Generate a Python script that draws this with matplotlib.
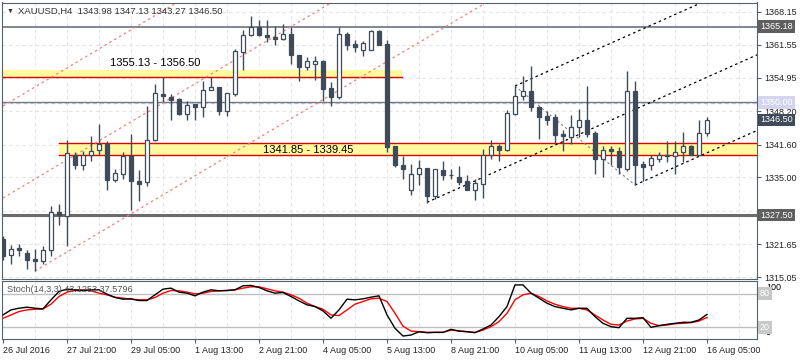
import matplotlib.pyplot as plt
import numpy as np

# XAUUSD H4 candles (oldest first)
opens = [1322.6, 1319.5, 1320.8, 1320.0, 1318.6, 1318.2, 1320.4, 1328.0, 1327.2, 1339.5,
         1337.6, 1339.4, 1340.4, 1341.7, 1334.5, 1335.8, 1339.2, 1334.3, 1334.0, 1342.6,
         1351.8, 1351.0, 1350.7, 1347.8, 1349.6, 1349.0, 1352.4, 1353.0, 1348.2, 1351.8,
         1360.0, 1363.5, 1365.0, 1363.4, 1363.1, 1362.8, 1363.7, 1359.5, 1357.0, 1357.8,
         1358.3, 1352.8, 1351.0, 1363.7, 1361.6, 1360.5, 1360.5, 1364.3, 1361.7, 1341.2,
         1337.6, 1332.6, 1335.7, 1336.8, 1331.2, 1336.5, 1335.5, 1335.0, 1334.2, 1332.6,
         1333.8, 1339.6, 1341.3, 1340.6, 1347.8, 1351.2, 1352.3, 1349.0, 1347.2, 1347.0,
         1343.7, 1343.0, 1345.0, 1346.5, 1343.8, 1338.8, 1340.7, 1340.3, 1336.8, 1352.3,
         1337.7, 1337.6, 1338.8, 1339.4, 1339.2, 1340.0, 1341.3, 1339.5, 1343.98]
highs = [1323.2, 1321.6, 1321.8, 1320.4, 1320.8, 1321.2, 1329.2, 1329.7, 1342.6, 1340.0,
         1340.2, 1343.3, 1345.7, 1342.2, 1336.8, 1340.0, 1343.8, 1336.6, 1349.2, 1353.8,
         1355.0, 1351.8, 1350.9, 1350.2, 1349.8, 1354.3, 1355.0, 1353.1, 1351.9, 1360.8,
         1364.5, 1367.3, 1366.4, 1366.4, 1365.3, 1365.7, 1365.0, 1359.6, 1359.0, 1359.3,
         1358.4, 1354.0, 1365.0, 1364.0, 1362.6, 1362.2, 1364.6, 1364.6, 1362.5, 1341.3,
         1339.3, 1337.8, 1338.5, 1336.9, 1336.8, 1338.3, 1336.8, 1337.3, 1335.5, 1334.8,
         1340.8, 1342.6, 1341.7, 1348.5, 1353.3, 1355.3, 1357.3, 1349.3, 1348.2, 1347.8,
         1344.5, 1347.5, 1348.7, 1353.3, 1344.2, 1341.2, 1341.2, 1341.0, 1356.3, 1354.3,
         1338.3, 1339.5, 1340.0, 1342.3, 1342.2, 1344.0, 1341.5, 1346.5, 1347.13]
lows = [1318.6, 1317.8, 1319.2, 1316.8, 1316.2, 1317.7, 1319.2, 1325.6, 1321.2, 1336.8,
        1336.5, 1338.2, 1339.4, 1332.5, 1334.0, 1334.8, 1328.5, 1330.3, 1333.3, 1342.2,
        1350.0, 1346.5, 1347.5, 1346.4, 1346.4, 1347.0, 1352.4, 1347.5, 1347.2, 1351.2,
        1356.4, 1363.2, 1363.2, 1362.0, 1361.5, 1362.6, 1357.7, 1354.2, 1356.5, 1354.4,
        1350.2, 1349.2, 1350.8, 1360.4, 1360.0, 1359.2, 1360.5, 1361.6, 1340.0, 1337.0,
        1334.7, 1331.5, 1333.6, 1330.0, 1330.7, 1334.5, 1334.7, 1333.5, 1332.5, 1330.6,
        1331.0, 1338.8, 1338.2, 1340.2, 1347.6, 1350.6, 1348.2, 1342.8, 1345.5, 1341.7,
        1340.2, 1341.8, 1343.0, 1343.0, 1335.8, 1335.0, 1337.4, 1335.8, 1336.2, 1333.5,
        1334.2, 1336.4, 1338.0, 1338.0, 1335.7, 1338.0, 1339.4, 1339.4, 1343.27]
closes = [1319.2, 1320.8, 1320.4, 1318.5, 1318.2, 1320.5, 1328.0, 1327.4, 1339.8, 1337.5,
          1339.5, 1340.2, 1341.7, 1334.5, 1335.8, 1339.3, 1334.2, 1333.8, 1342.5, 1351.8,
          1351.3, 1350.5, 1347.8, 1349.6, 1349.0, 1352.5, 1353.0, 1348.2, 1351.8, 1360.2,
          1363.5, 1365.0, 1363.4, 1363.0, 1362.8, 1363.7, 1359.4, 1357.0, 1358.3, 1358.3,
          1352.7, 1351.0, 1363.7, 1361.4, 1361.0, 1361.8, 1364.3, 1361.6, 1341.0, 1337.6,
          1336.8, 1335.7, 1336.8, 1331.2, 1336.6, 1335.4, 1335.5, 1334.0, 1332.5, 1333.8,
          1339.6, 1341.3, 1340.5, 1347.8, 1351.2, 1352.3, 1349.0, 1347.0, 1346.6, 1343.5,
          1343.2, 1345.0, 1346.5, 1343.8, 1338.8, 1340.5, 1340.2, 1337.0, 1352.3, 1337.6,
          1337.0, 1338.8, 1339.5, 1339.2, 1340.0, 1341.3, 1339.4, 1343.8, 1346.50]

# Stochastic (14,3,3)
stoch_k = [42.2, 51.2, 54.2, 56, 54.2, 53, 69.2, 84.2, 88.4, 87.2, 86, 87.2, 87.2, 79.4, 73.4,
           70.4, 71, 68, 68, 78.2, 88.4, 90.2, 83, 81.2, 76.4, 83, 87.2, 85.4, 86, 87.2,
           94.4, 95, 91.4, 85.4, 81.2, 82.4, 75.2, 67.4, 60.2, 57.2, 49.4, 36.2, 51.2, 70.4,
           69.2, 71, 74, 76.4, 42.2, 18.2, 4.3, 6.1, 12.1, 10.3, 10.9, 10.9, 16.3, 13.3,
           12.1, 10.3, 16.9, 24.1, 39.1, 57.1, 96, 96, 81.2, 72.2, 63.2, 57.1, 54.1, 51.2,
           54.1, 54.1, 39.1, 27.1, 21.1, 19.3, 36.1, 36.1, 37.3, 19.9, 22.9, 25.3, 27.1,
           28.9, 28.9, 33.1, 43.13]
stoch_d = [36.2, 42.2, 48.2, 51.2, 52.4, 53, 61.4, 75.2, 83, 86, 87.2, 85.4, 81.2, 78.2, 74,
           72.2, 70.4, 69.2, 69.2, 73.4, 81.2, 86, 85.4, 83, 80, 81.2, 84.2, 85.4, 86, 87.2,
           90.2, 92.6, 92.6, 89, 85.4, 83, 78.2, 72.2, 63.2, 57.2, 52.4, 42.2, 41, 51.2,
           61.4, 66.2, 71, 72.2, 66.2, 45.2, 22, 13.3, 12.1, 10.9, 10.9, 10.9, 15.1, 13.3,
           12.1, 10.9, 15.1, 21.1, 30.1, 45.1, 69.2, 78.2, 81.2, 75.2, 67.3, 61.3, 57.1,
           54.1, 54.1, 51.1, 42.1, 33.1, 25.3, 24.1, 31.3, 34.9, 36.1, 27.1, 22.9, 24.1,
           26.5, 27.1, 28.3, 31.3, 37.58]

time_labels = ["26 Jul 2016", "27 Jul 21:00", "29 Jul 05:00", "1 Aug 13:00", "2 Aug 21:00",
               "4 Aug 05:00", "5 Aug 13:00", "8 Aug 21:00", "10 Aug 05:00", "11 Aug 13:00",
               "12 Aug 21:00", "16 Aug 05:00"]
price_ticks = [1315.05, 1321.65, 1328.25, 1335.00, 1341.60, 1348.20, 1354.95, 1361.55, 1368.15]

# horizontal levels and zones
level_lines = [1365.18, 1350.00, 1327.50]
zone_hi = (1355.13, 1356.50)
zone_lo = (1339.45, 1341.85)

# channels: (start candle, price at start), slope in price per candle
red_channel = [(0, 1349.3), (0, 1330.9), (4, 1316.3)]
red_slope = 0.952
black_channel = [(64, 1353.3), (53, 1330.03), (79, 1333.5)]
black_slope = 0.715

dark = "#3f4b59"
frame = "#56606b"
gridc = "#e4e4e4"

plt.rcParams['font.family'] = ['Liberation Sans', 'DejaVu Sans']

fig = plt.figure(figsize=(8, 3.6), dpi=100)
ax = fig.add_axes([2/800, 1-279/360, 755/800, 276.5/360])
ax2 = fig.add_axes([2/800, 1-339/360, 755/800, 58/360])

x = np.arange(len(opens))
o = np.array(opens); c = np.array(closes)
xmax = 94.25

# grid
for a in (ax, ax2):
    for gx in range(4, 96, 4):
        a.axvline(gx, color=gridc, lw=0.8, ls=(0, (3, 3)), zorder=0)
for p in price_ticks:
    ax.axhline(p, color=gridc, lw=0.8, ls=(0, (3, 3)), zorder=0)

# zones
ax.fill_between([-1, 49.9], zone_hi[0], zone_hi[1], color="#fffaa0", lw=0, zorder=1)
ax.plot([-1, 49.9], [zone_hi[0], zone_hi[0]], color="#e00000", lw=1, zorder=1.2)
ax.fill_between([7, xmax + 1], zone_lo[0], zone_lo[1], color="#fffaa0", lw=0, zorder=1)
ax.plot([7, xmax + 1], [zone_lo[0], zone_lo[0]], color="#e00000", lw=1, zorder=1.2)
ax.plot([7, xmax + 1], [zone_lo[1], zone_lo[1]], color="#e00000", lw=1, zorder=1.2)
ax.text(13.4, 1356.8, "1355.13 - 1356.50", fontsize=8, color="black", va="bottom", zorder=2)
ax.text(32.5, 1340.55, "1341.85 - 1339.45", fontsize=8, color="black", va="center", zorder=2)

# horizontal levels
ax.axhline(level_lines[0], color="#5d666f", lw=1.1, zorder=1.5)
ax.axhline(level_lines[1] - 0.15, color="#c8c8ea", lw=1, ls=(0, (3, 2)), zorder=1.4)
ax.axhline(level_lines[1], color="#737a82", lw=1, zorder=1.5)
ax.axhline(level_lines[2], color="#6b6b6b", lw=2.2, zorder=1.5)

# channels
for s, p in red_channel:
    xs = np.array([s, 100])
    ax.plot(xs, p + red_slope * (xs - s), color="#f08080", lw=0.9, ls=(0, (2, 2.5)), zorder=1.6)
for s, p in black_channel:
    xs = np.array([s, 100])
    ax.plot(xs, p + black_slope * (xs - s), color="black", lw=0.9, ls=(0, (2, 2.5)), zorder=1.6)
ax.plot([black_channel[0][0], black_channel[2][0]], [black_channel[0][1], black_channel[2][1]],
        color="#808080", lw=0.8, ls=(0, (2, 2.5)), zorder=1.6)

# candles
up = c >= o
ax.vlines(x, lows, highs, color=dark, lw=1, zorder=3)
ax.bar(x, np.abs(c - o), bottom=np.minimum(o, c), width=0.62,
       color=np.where(up, "white", dark), edgecolor=dark, linewidth=0.9, zorder=4)

ax.set_xlim(-0.125, xmax)
ax.set_ylim(1314.7, 1370.0)
ax.yaxis.tick_right()
ax.set_yticks(price_ticks)
ax.set_yticklabels(["%.2f" % p if p != 1328.25 else "" for p in price_ticks])
ax.tick_params(axis="y", length=3, color=frame, labelsize=6.5, pad=2, labelcolor="#222222")
ax.set_xticks([])
for sp in ax.spines.values():
    sp.set_color(frame)

# price boxes on the right axis
def price_box(a, y, txt, fc, tc="white"):
    a.text(1.004, y, txt, transform=a.get_yaxis_transform(), ha="left", va="center",
           fontsize=6.5, color=tc, clip_on=False, zorder=6,
           bbox=dict(boxstyle="square,pad=0.22", fc=fc, ec="none"))

price_box(ax, level_lines[0], "1365.18", "#5f5f5f")
price_box(ax, level_lines[1], "1350.00", "#d4d4ee")
price_box(ax, closes[-1], "%.2f" % closes[-1], dark)
price_box(ax, level_lines[2], "1327.50", "#5f5f5f")

fig.text(7/800, 1-11/360, "\u25bc", fontsize=5, color="#333333", va="center")
fig.text(18/800, 1-11/360, "XAUUSD,H4  %.2f %.2f %.2f %.2f" % (opens[-1], highs[-1], lows[-1], closes[-1]),
         fontsize=6.8, color="#333333", va="center")

# stochastic panel
ax2.axhline(80, color="#c0c0c0", lw=1, zorder=1)
ax2.axhline(20, color="#c0c0c0", lw=1, zorder=1)
ax2.plot(x, stoch_k, color="black", lw=1, zorder=3)
ax2.plot(x, stoch_d, color="#ff0000", lw=1, zorder=2)
ax2.set_xlim(-0.125, xmax)
ax2.set_ylim(-1, 103)
ax2.set_yticks([])
ax2.set_xticks(np.arange(0, 89, 8))
ax2.set_xticklabels(time_labels, ha="left")
ax2.tick_params(axis="x", length=3, color=frame, labelsize=6.5, pad=2, labelcolor="#222222")
for sp in ax2.spines.values():
    sp.set_color(frame)
ax2.text(1.012, 100, "100", transform=ax2.get_yaxis_transform(), fontsize=6.5, va="top", clip_on=False)
ax2.text(1.012, 11, "0", transform=ax2.get_yaxis_transform(), fontsize=6.5, va="center", clip_on=False)
price_box(ax2, 80, "80", "#c8c8c8")
price_box(ax2, 20, "20", "#c8c8c8")
ax2.text(0.006, 0.93, "Stoch(14,3,3) %.4f %.4f" % (43.1253, 37.5796), transform=ax2.transAxes,
         fontsize=6.6, color="#555555", va="top", zorder=5)

fig.savefig("out.png", dpi=100)
